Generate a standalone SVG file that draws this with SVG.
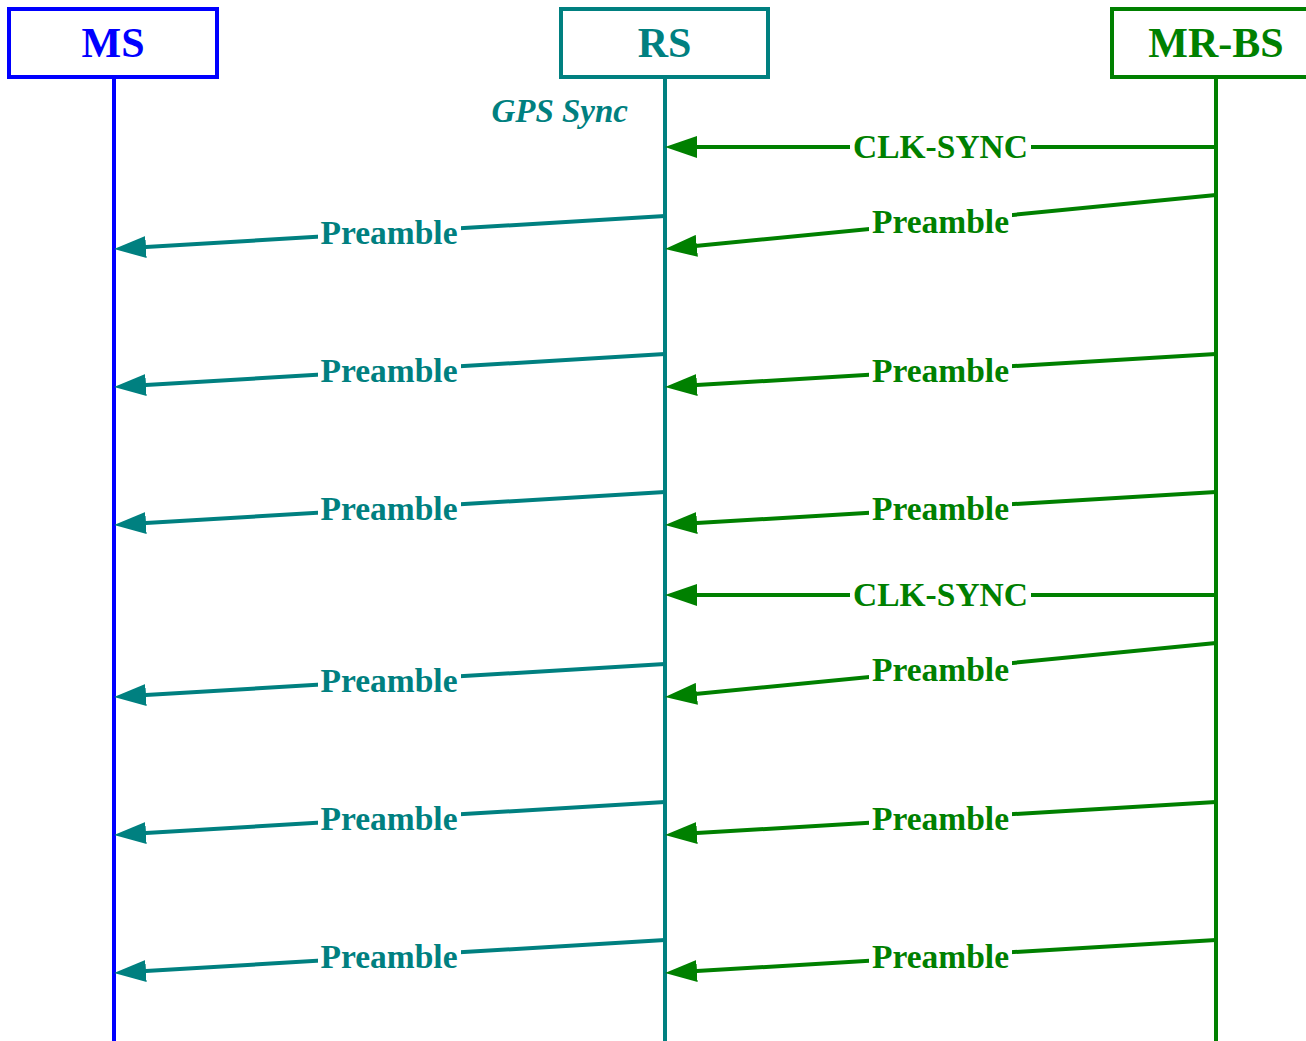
<svg xmlns="http://www.w3.org/2000/svg" width="1306" height="1041" viewBox="0 0 1306 1041">
<style>
.box{fill:#fff;stroke-width:4}
.life{stroke-width:4;fill:none}
.name{font-family:"Liberation Serif","Times New Roman",serif;font-weight:bold;font-size:42px;text-anchor:middle}
.lbl{font-family:"Liberation Serif","Times New Roman",serif;font-weight:bold;font-size:33.5px;text-anchor:middle}
.g{stroke:#008000;fill:none;stroke-width:4}
.t{stroke:#008080;fill:none;stroke-width:4}
.bg{fill:#fff;stroke:none}
</style>
<defs>
<marker id="ag" markerUnits="userSpaceOnUse" viewBox="0 0 32 22" markerWidth="32" markerHeight="22" refX="17" refY="11" orient="auto"><path d="M0,0 L32,11 L0,22 z" fill="#008000"/></marker>
<marker id="at" markerUnits="userSpaceOnUse" viewBox="0 0 32 22" markerWidth="32" markerHeight="22" refX="17" refY="11" orient="auto"><path d="M0,0 L32,11 L0,22 z" fill="#008080"/></marker>
</defs>
<rect width="1306" height="1041" fill="#fff"/>
<g id="MS">
<rect class="box" x="9" y="9" width="208" height="68" stroke="#0000FF"/>
<text class="name" x="113" y="57" fill="#0000FF">MS</text>
<line class="life" x1="114" y1="77" x2="114" y2="1041" stroke="#0000FF"/>
</g>
<g id="RS">
<rect class="box" x="561" y="9" width="207" height="68" stroke="#008080"/>
<text class="name" x="664.5" y="57" fill="#008080">RS</text>
<line class="life" x1="665" y1="77" x2="665" y2="1041" stroke="#008080"/>
<text x="628" y="122" fill="#008080" style="font-family:'Liberation Serif','Times New Roman',serif;font-weight:bold;font-style:italic;font-size:33px;text-anchor:end">GPS Sync</text>
</g>
<g id="MR-BS">
<rect class="box" x="1112" y="9" width="210" height="68" stroke="#008000"/>
<text class="name" x="1216" y="57" fill="#008000">MR-BS</text>
<line class="life" x1="1216" y1="77" x2="1216" y2="1041" stroke="#008000"/>
</g>
<g id="connectors">
<!-- green MR-BS -> RS -->
<path class="g" d="M1216,147 L680,147" marker-end="url(#ag)"/>
<path class="g" d="M1216,195 L679.9,247.5" marker-end="url(#ag)"/>
<path class="g" d="M1216,354 L680,386.1" marker-end="url(#ag)"/>
<path class="g" d="M1216,492 L680,524.1" marker-end="url(#ag)"/>
<path class="g" d="M1216,595 L680,595" marker-end="url(#ag)"/>
<path class="g" d="M1216,643 L679.9,695.5" marker-end="url(#ag)"/>
<path class="g" d="M1216,802 L680,834.1" marker-end="url(#ag)"/>
<path class="g" d="M1216,940 L680,972.1" marker-end="url(#ag)"/>
<!-- teal RS -> MS -->
<path class="t" d="M665,216 L129,248.1" marker-end="url(#at)"/>
<path class="t" d="M665,354 L129,386.1" marker-end="url(#at)"/>
<path class="t" d="M665,492 L129,524.1" marker-end="url(#at)"/>
<path class="t" d="M665,664 L129,696.1" marker-end="url(#at)"/>
<path class="t" d="M665,802 L129,834.1" marker-end="url(#at)"/>
<path class="t" d="M665,940 L129,972.1" marker-end="url(#at)"/>
<!-- green labels -->
<g fill="#008000">
<rect class="bg" x="850" y="132" width="181" height="29"/><text class="lbl" x="940.5" y="158" fill="#008000">CLK-SYNC</text>
<rect class="bg" x="869" y="207" width="143" height="29"/><text class="lbl" x="940.5" y="233" fill="#008000">Preamble</text>
<rect class="bg" x="869" y="355.5" width="143" height="29"/><text class="lbl" x="940.5" y="381.5" fill="#008000">Preamble</text>
<rect class="bg" x="869" y="493.5" width="143" height="29"/><text class="lbl" x="940.5" y="519.5" fill="#008000">Preamble</text>
<rect class="bg" x="850" y="580" width="181" height="29"/><text class="lbl" x="940.5" y="606" fill="#008000">CLK-SYNC</text>
<rect class="bg" x="869" y="655" width="143" height="29"/><text class="lbl" x="940.5" y="681" fill="#008000">Preamble</text>
<rect class="bg" x="869" y="803.5" width="143" height="29"/><text class="lbl" x="940.5" y="829.5" fill="#008000">Preamble</text>
<rect class="bg" x="869" y="941.5" width="143" height="29"/><text class="lbl" x="940.5" y="967.5" fill="#008000">Preamble</text>
</g>
<!-- teal labels -->
<rect class="bg" x="318" y="217.5" width="143" height="29"/><text class="lbl" x="389" y="243.5" fill="#008080">Preamble</text>
<rect class="bg" x="318" y="355.5" width="143" height="29"/><text class="lbl" x="389" y="381.5" fill="#008080">Preamble</text>
<rect class="bg" x="318" y="493.5" width="143" height="29"/><text class="lbl" x="389" y="519.5" fill="#008080">Preamble</text>
<rect class="bg" x="318" y="665.5" width="143" height="29"/><text class="lbl" x="389" y="691.5" fill="#008080">Preamble</text>
<rect class="bg" x="318" y="803.5" width="143" height="29"/><text class="lbl" x="389" y="829.5" fill="#008080">Preamble</text>
<rect class="bg" x="318" y="941.5" width="143" height="29"/><text class="lbl" x="389" y="967.5" fill="#008080">Preamble</text>
</g>
</svg>
